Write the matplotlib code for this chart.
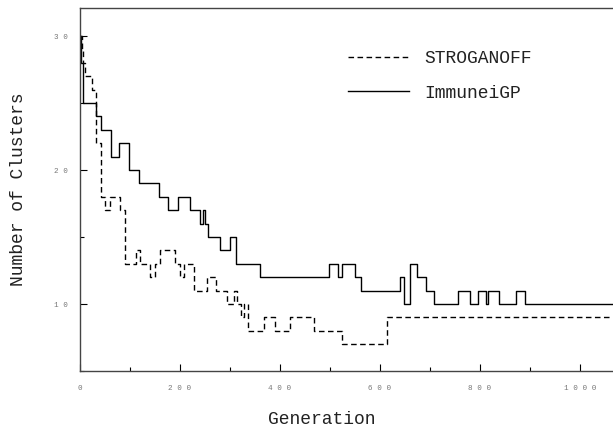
import matplotlib.pyplot as plt
from matplotlib.ticker import FuncFormatter, MultipleLocator

# step data (generation where each level starts)
immune_gen = [0, 2, 5, 31, 42, 62, 77, 97, 118, 158, 175, 195, 220, 240, 245,
              249, 255, 279, 299, 311, 360, 497, 515, 523, 549, 561, 639, 648,
              660, 673, 691, 707, 755, 779, 795, 812, 815, 838, 871, 889, 1100]
immune_val = [30, 28, 25, 24, 23, 21, 22, 20, 19, 18, 17, 18, 17, 16, 17,
              16, 15, 14, 15, 13, 12, 13, 12, 13, 12, 11, 12, 10,
              13, 12, 11, 10, 11, 10, 11, 10, 11, 10, 11, 10, 10]

strog_gen = [0, 3, 5, 10, 23, 31, 41, 50, 60, 80, 90, 112, 119, 139, 149, 159,
             190, 199, 207, 227, 253, 272, 293, 307, 313, 322, 327, 335, 368,
             390, 420, 468, 523, 613, 1100]
strog_val = [30, 29, 28, 27, 26, 22, 18, 17, 18, 17, 13, 14, 13, 12, 13, 14,
             13, 12, 13, 11, 12, 11, 10, 11, 10, 9, 10, 8, 9,
             8, 9, 8, 7, 9, 9]

plt.rcParams['font.family'] = ['Liberation Mono', 'DejaVu Sans Mono']

fig = plt.figure(figsize=(6.13, 4.32), dpi=100)
W, H = 613, 432
ax = fig.add_axes([80 / W, (H - 371) / H, 550 / W, 363 / H])

ax.step(strog_gen, strog_val, where="post", color="black", lw=1.0,
        linestyle=(0, (4, 2.5)), label="STROGANOFF")
ax.step(immune_gen, immune_val, where="post", color="black", lw=1.0,
        label="ImmuneiGP")

ax.set_xlim(0, 1100)
ax.set_ylim(5, 32.1)

ax.xaxis.set_major_locator(MultipleLocator(200))
ax.xaxis.set_minor_locator(MultipleLocator(100))
ax.yaxis.set_major_locator(MultipleLocator(10))
ax.yaxis.set_minor_locator(MultipleLocator(5))

spaced = FuncFormatter(lambda v, p: " ".join(str(int(round(v)))))
ax.xaxis.set_major_formatter(spaced)
ax.yaxis.set_major_formatter(spaced)

ax.tick_params(which="major", direction="in", length=5, width=0.8,
               labelsize=5.5, labelcolor="#777777", pad=10)
ax.tick_params(axis="y", which="major", pad=9)
ax.tick_params(which="minor", direction="in", length=3, width=0.8)
ax.tick_params(top=False, right=False, which="both")

for s in ax.spines.values():
    s.set_linewidth(1.0)
    s.set_color("#444444")

ax.set_xlabel("Generation", fontsize=13, color="#222222")
ax.xaxis.set_label_coords(0.44, -0.11)
ax.set_ylabel("Number of Clusters", fontsize=13, color="#222222")
ax.yaxis.set_label_coords(-0.097, 0.5)

leg = ax.legend(loc="upper left", bbox_to_anchor=(348 / W, 1 - 50 / H),
                bbox_transform=fig.transFigure, frameon=False, fontsize=13,
                handlelength=3.4, handletextpad=0.85, labelspacing=0.97,
                borderpad=0, borderaxespad=0)
for t in leg.get_texts():
    t.set_color("#222222")

fig.savefig("out.png", dpi=100)
